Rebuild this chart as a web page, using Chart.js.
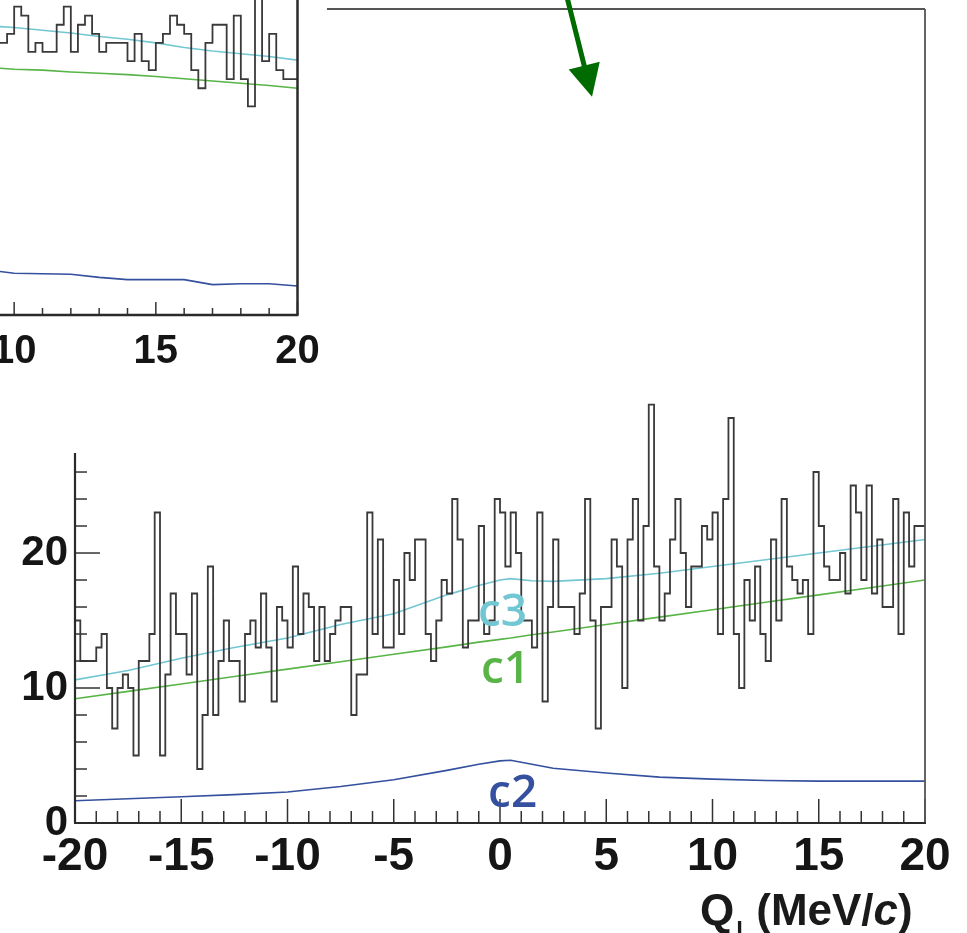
<!DOCTYPE html>
<html>
<head>
<meta charset="utf-8">
<script src="https://cdn.jsdelivr.net/npm/chart.js@4/dist/chart.umd.min.js"></script>
<style>
body { margin: 0; background: #fff; overflow: hidden; }
#main { position: absolute; left: 0; top: 0; }
#inset { position: absolute; left: 0; top: 0; background: #fff; }
</style>
</head>
<body>
<canvas id="main" width="967" height="933"></canvas>
<canvas id="inset" width="327" height="453"></canvas>
<script>
const getEl = (id) => document.getElementById(id)

// histogram bins are 0.25 MeV/c wide
const binWidth = 0.25

// main plot, bins from -20 to 20
const mainStart = -20
const mainCounts = [
    15, 12, 12, 12, 13, 14, 10, 7, 10, 11,
    10, 5, 12, 12, 14, 23, 5, 11, 17, 14,
    14, 11, 17, 4, 8, 19, 8, 12, 15, 12,
    12, 9, 14, 15, 13, 17, 13, 9, 16, 15,
    13, 19, 14, 17, 16, 12, 16, 12, 14, 15,
    16, 16, 8, 11, 11, 23, 14, 21, 13, 13,
    18, 14, 20, 18, 21, 21, 14, 12, 15, 18,
    17, 24, 21, 13, 15, 15, 22, 14, 15, 24,
    23, 19, 23, 20, 15, 15, 13, 23, 9, 16,
    21, 16, 16, 16, 14, 17, 24, 15, 7, 16,
    16, 21, 19, 10, 21, 24, 15, 22, 31, 19,
    15, 17, 21, 24, 20, 16, 19, 19, 22, 21,
    23, 14, 24, 30, 14, 10, 18, 15, 19, 14,
    12, 21, 15, 24, 19, 18, 17, 18, 14, 26,
    22, 19, 18, 18, 20, 17, 25, 23, 18, 25,
    17, 21, 16, 16, 24, 14, 23, 19, 22, 22
]

// smooth components of the main plot
const curveX = [-20, -17.5, -15, -12.5, -10, -7.5, -5, -2.5, -1, 0, 0.5, 1.5, 2.5, 5, 7.5, 10, 12.5, 15, 17.5, 20]
const c1 = [9.2, 9.75, 10.3, 10.85, 11.4, 11.95, 12.5, 13.05, 13.4, 13.6, 13.7, 13.95, 14.15, 14.7, 15.25, 15.8, 16.35, 16.9, 17.45, 18.0]
const c2 = [1.65, 1.8, 1.95, 2.1, 2.3, 2.7, 3.2, 3.9, 4.35, 4.6, 4.65, 4.35, 4.05, 3.7, 3.4, 3.25, 3.15, 3.1, 3.1, 3.1]
const c3 = [10.6, 11.3, 12.2, 13.0, 13.7, 14.7, 15.5, 16.9, 17.6, 18.0, 18.1, 17.95, 17.9, 18.1, 18.5, 19.0, 19.5, 20.0, 20.5, 21.0]

const xTicks = [-20, -15, -10, -5, 0, 5, 10, 15, 20]
const yTicks = [0, 10, 20, 30, 40, 50, 60]

// inset (only its right part is in the picture)
const insetStart = 9.5
const insetCounts = [
    30, 31, 34, 33, 29, 30, 29, 29, 32, 34,
    29, 32, 33, 31, 29, 30, 30, 30, 28, 31,
    28, 27, 30, 31, 33, 32, 31, 27, 25, 30,
    32, 32, 26, 33, 26, 23, 35, 28, 31, 27,
    26, 26
]
const insetX = [9.5, 10, 11, 12, 13, 14, 15, 16, 17, 18, 19, 20]
const insetC1 = [27.2, 27.1, 27.0, 26.8, 26.65, 26.5, 26.3, 26.05, 25.8, 25.55, 25.3, 25.0]
const insetC2 = [4.8, 4.6, 4.55, 4.5, 4.15, 3.9, 3.9, 3.9, 3.35, 3.45, 3.45, 3.2]
const insetC3 = [31.8, 31.7, 31.4, 31.1, 30.7, 30.4, 30.0, 29.5, 29.1, 28.8, 28.5, 28.1]
const insetTicks = [10, 15, 20]

const colHist = '#3a3a3a'
const colC1 = '#58b447'
const colC2 = '#34509e'
const colC3 = '#72c7d3'
const tickFont = 'Liberation Sans'

const histPoints = (start, counts) => {
    let pts = counts.map((c, i) => ({ x: start + i * binWidth, y: c }))
    pts.push({ x: start + counts.length * binWidth, y: counts[counts.length - 1] })
    return pts
}
const curvePoints = (xs, ys) => xs.map((x, i) => ({ x: x, y: ys[i] }))
const fixTicks = (vals) => (s) => { s.ticks = vals.map(v => ({ value: v })) }

const seg = (ctx, x1, y1, x2, y2) => {
    ctx.beginPath()
    ctx.moveTo(x1, y1)
    ctx.lineTo(x2, y2)
    ctx.stroke()
}

const datasets = (hist, cc1, cc2, cc3) => [
    { data: hist, stepped: true, borderColor: colHist, borderWidth: 1.8, pointRadius: 0, fill: false },
    { data: cc3, borderColor: colC3, borderWidth: 1.6, pointRadius: 0, fill: false },
    { data: cc1, borderColor: colC1, borderWidth: 1.6, pointRadius: 0, fill: false },
    { data: cc2, borderColor: colC2, borderWidth: 1.6, pointRadius: 0, fill: false }
]

const mainDeco = {
    id: 'mainDeco',
    afterDraw(chart) {
        const { ctx, chartArea: a, scales: { x, y } } = chart
        ctx.save()
        ctx.strokeStyle = '#333'
        ctx.lineWidth = 1.5
        for (let v = -20; v <= 20; v++) {
            const px = x.getPixelForValue(v)
            seg(ctx, px, a.bottom, px, a.bottom - (v % 5 === 0 ? 24 : 12))
        }
        for (let v = 0; v <= 60; v += 2) {
            const py = y.getPixelForValue(v)
            seg(ctx, a.left, py, a.left + (v % 10 === 0 ? 25 : 12), py)
        }
        // frame
        ctx.strokeStyle = '#555'
        ctx.lineWidth = 1.8
        seg(ctx, a.left, a.top, a.right, a.top)
        seg(ctx, a.right, a.top, a.right, a.bottom)
        ctx.strokeStyle = '#2a2a2a'
        ctx.lineWidth = 2.2
        seg(ctx, a.left, a.top, a.left, a.bottom)
        seg(ctx, a.left - 1, a.bottom, a.right + 1, a.bottom)

        // component labels
        ctx.font = '600 46px "Open Sans"'
        ctx.textBaseline = 'alphabetic'
        ctx.textAlign = 'left'
        ctx.fillStyle = colC3
        ctx.fillText('c3', x.getPixelForValue(-1.04), y.getPixelForValue(14.6))
        ctx.fillStyle = colC1
        ctx.fillText('c1', x.getPixelForValue(-0.9), y.getPixelForValue(10.35))
        ctx.fillStyle = colC2
        ctx.fillText('c2', x.getPixelForValue(-0.56), y.getPixelForValue(1.2))

        // arrow
        const x0 = x.getPixelForValue(3.15), y0 = y.getPixelForValue(61.2)
        const x1 = x.getPixelForValue(4.33), y1 = y.getPixelForValue(53.8)
        const ang = Math.atan2(y1 - y0, x1 - x0)
        const hl = 32, hw = 16
        const bx = x1 - hl * Math.cos(ang), by = y1 - hl * Math.sin(ang)
        ctx.strokeStyle = '#006b00'
        ctx.fillStyle = '#006b00'
        ctx.lineWidth = 5
        seg(ctx, x0, y0, bx + 2 * Math.cos(ang), by + 2 * Math.sin(ang))
        ctx.beginPath()
        ctx.moveTo(x1, y1)
        ctx.lineTo(bx + hw * Math.sin(ang), by - hw * Math.cos(ang))
        ctx.lineTo(bx - hw * Math.sin(ang), by + hw * Math.cos(ang))
        ctx.closePath()
        ctx.fill()

        // axis title  Q_l (MeV/c)
        ctx.fillStyle = '#1a1a1a'
        ctx.textAlign = 'left'
        let tx = 700
        const ty = 925
        ctx.font = 'bold 44px ' + tickFont
        ctx.fillText('Q', tx, ty)
        tx += ctx.measureText('Q').width + 2
        ctx.font = 'bold 24px ' + tickFont
        ctx.fillText('l', tx, ty + 14)
        tx += 20
        ctx.font = 'bold 44px ' + tickFont
        ctx.fillText('(MeV/', tx, ty)
        tx += ctx.measureText('(MeV/').width
        ctx.font = 'italic bold 44px ' + tickFont
        ctx.fillText('c', tx, ty)
        tx += ctx.measureText('c').width
        ctx.font = 'bold 44px ' + tickFont
        ctx.fillText(')', tx, ty)
        ctx.restore()
    }
}

const insetDeco = {
    id: 'insetDeco',
    afterDraw(chart) {
        const { ctx, chartArea: a, scales: { x } } = chart
        ctx.save()
        ctx.strokeStyle = '#333'
        ctx.lineWidth = 1.5
        for (let v = 10; v <= 20; v++) {
            const px = x.getPixelForValue(v)
            seg(ctx, px, a.bottom, px, a.bottom - (v % 5 === 0 ? 13 : 7))
        }
        ctx.strokeStyle = '#2a2a2a'
        ctx.lineWidth = 2.5
        seg(ctx, a.left, a.bottom, a.right + 1, a.bottom)
        seg(ctx, a.right, a.top, a.right, a.bottom)
        ctx.restore()
    }
}

Chart.defaults.animation = false

new Chart(getEl('main'), {
    type: 'line',
    data: { datasets: datasets(histPoints(mainStart, mainCounts), curvePoints(curveX, c1), curvePoints(curveX, c2), curvePoints(curveX, c3)) },
    options: {
        responsive: false,
        devicePixelRatio: 1,
        layout: { padding: { left: 0, right: 42, top: 9, bottom: 0 } },
        plugins: { legend: { display: false }, tooltip: { enabled: false } },
        scales: {
            x: {
                type: 'linear', min: -20, max: 20,
                grid: { display: false, drawTicks: false }, border: { display: false },
                ticks: { padding: 7, color: '#151515', autoSkip: false, maxRotation: 0,
                    font: { family: tickFont, weight: 'bold', size: 46 } },
                afterBuildTicks: fixTicks(xTicks),
                afterFit: (s) => { s.height = 110; s.paddingLeft = 0; s.paddingRight = 0 }
            },
            y: {
                type: 'linear', min: 0, max: 60.3,
                grid: { display: false, drawTicks: false }, border: { display: false },
                ticks: { padding: 7, color: '#151515', autoSkip: false,
                    font: { family: tickFont, weight: 'bold', size: 42 } },
                afterBuildTicks: fixTicks(yTicks),
                afterFit: (s) => { s.width = 75; s.paddingTop = 0; s.paddingBottom = 0 }
            }
        }
    },
    plugins: [mainDeco]
})

new Chart(getEl('inset'), {
    type: 'line',
    data: { datasets: datasets(histPoints(insetStart, insetCounts), curvePoints(insetX, insetC1), curvePoints(insetX, insetC2), curvePoints(insetX, insetC3)) },
    options: {
        responsive: false,
        devicePixelRatio: 1,
        layout: { padding: { left: 0, right: 29.5, top: 0, bottom: 0 } },
        plugins: { legend: { display: false }, tooltip: { enabled: false } },
        scales: {
            x: {
                type: 'linear', min: 9.5, max: 20,
                grid: { display: false, drawTicks: false }, border: { display: false },
                ticks: { padding: 13, color: '#151515', autoSkip: false, maxRotation: 0,
                    font: { family: tickFont, weight: 'bold', size: 40 } },
                afterBuildTicks: fixTicks(insetTicks),
                afterFit: (s) => { s.height = 138; s.paddingLeft = 0; s.paddingRight = 0 }
            },
            y: { type: 'linear', min: 0, max: 34.73, display: false }
        }
    },
    plugins: [insetDeco]
})
</script>
</body>
</html>
